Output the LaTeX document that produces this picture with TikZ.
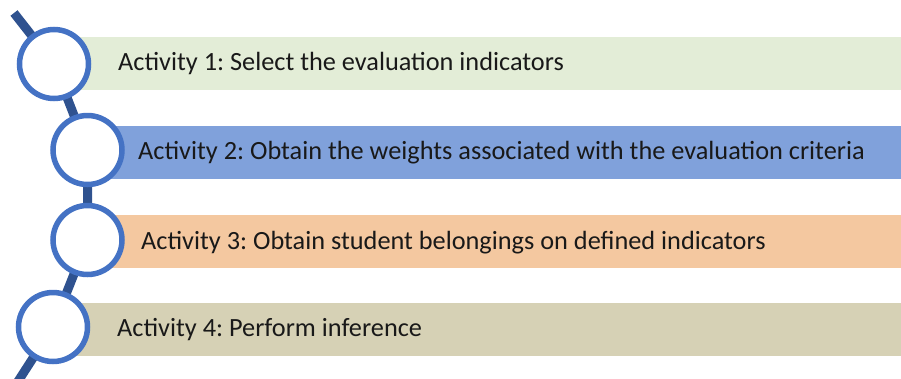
\documentclass[tikz,border=0pt]{standalone}
\usepackage{fontspec}
\setmainfont{Carlito}
\frenchspacing
\definecolor{linkblue}{RGB}{47,82,143}
\definecolor{ringblue}{RGB}{68,114,196}
\definecolor{barA}{RGB}{227,237,215}
\definecolor{barB}{RGB}{128,161,219}
\definecolor{barC}{RGB}{244,200,160}
\definecolor{barD}{RGB}{214,209,181}
\definecolor{txt}{RGB}{25,25,25}
\begin{document}
\begin{tikzpicture}[x=1pt,y=1pt,
  bar/.style={rectangle, inner sep=0pt, anchor=west, minimum height=53pt},
  ring/.style={circle, draw=ringblue, line width=5.5pt, fill=white, minimum size=69pt, inner sep=0pt},
  link/.style={draw=linkblue, line width=9pt},
  label/.style={anchor=base west, inner sep=0pt, text=txt, font=\fontsize{26.3}{30}\selectfont}]
\useasboundingbox (0,0) rectangle (901,-378);
% bars
\node[bar, fill=barA, minimum width=847pt] (b1) at (54,-63.5) {};
\node[bar, fill=barB, minimum width=814pt] (b2) at (87,-152) {};
\node[bar, fill=barC, minimum width=814pt] (b3) at (87,-241) {};
\node[bar, fill=barD, minimum width=848pt] (b4) at (53,-329.5) {};
% connectors
\coordinate (top) at (14,-13);
\coordinate (bot) at (15,-386);
\coordinate (p1) at (54,-64);
\coordinate (p2) at (87.5,-150);
\coordinate (p3) at (87.5,-240);
\coordinate (p4) at (53,-327);
\draw[link] (top) -- (p1) -- (p2) -- (p3) -- (p4) -- (bot);
% rings
\node[ring] (c1) at (p1) {};
\node[ring] (c2) at (p2) {};
\node[ring] (c3) at (p3) {};
\node[ring] (c4) at (p4) {};
% labels
\node[label] (t1) at (118,-70.5) {Activity 1: Select the evaluation indicators};
\node[label] (t2) at (138,-159) {Activity 2: Obtain the weights associated with the evaluation criteria};
\node[label] (t3) at (141,-249) {Activity 3: Obtain student belongings on defined indicators};
\node[label] (t4) at (117,-336) {Activity 4: Perform inference};
\end{tikzpicture}
\end{document}
